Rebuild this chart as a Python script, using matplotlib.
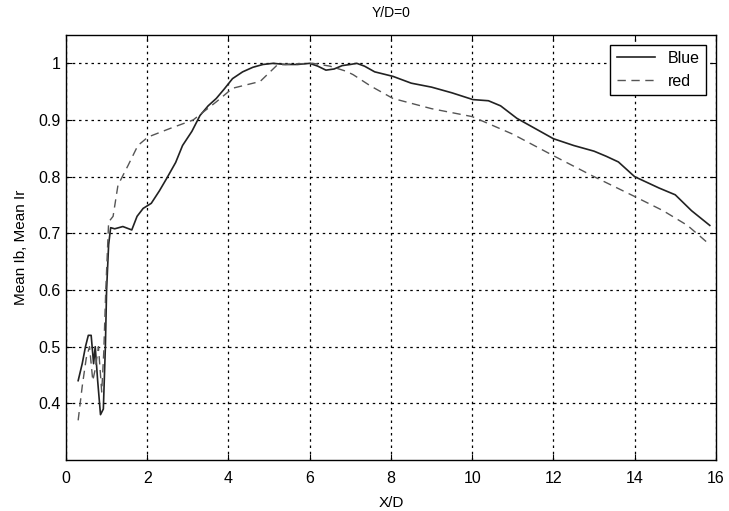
import numpy as np
import matplotlib.pyplot as plt

# values
x_blue = [0.30, 0.40, 0.48, 0.55, 0.62, 0.68, 0.72, 0.78, 0.85, 0.92, 0.97, 1.00, 1.05, 1.10,
          1.20, 1.40, 1.62, 1.75, 1.90, 2.10, 2.30, 2.48, 2.70, 2.87, 3.10, 3.30, 3.50, 3.70,
          3.90, 4.10, 4.35, 4.60, 4.85, 5.10, 5.40, 5.70, 6.00, 6.20, 6.40, 6.60, 6.80, 7.00,
          7.16, 7.35, 7.60, 8.05, 8.50, 9.00, 9.50, 10.02, 10.40, 10.70, 11.10, 11.50, 12.00,
          12.50, 13.00, 13.30, 13.60, 14.00, 14.30, 14.60, 15.00, 15.40, 15.85]
y_blue = [0.44, 0.47, 0.50, 0.52, 0.52, 0.47, 0.50, 0.44, 0.38, 0.39, 0.50, 0.60, 0.68, 0.71,
          0.708, 0.712, 0.706, 0.73, 0.744, 0.753, 0.775, 0.797, 0.825, 0.855, 0.88, 0.908, 0.925, 0.938,
          0.955, 0.973, 0.985, 0.993, 0.998, 1.0, 0.998, 0.998, 1.0, 0.995, 0.988, 0.99, 0.996, 0.998,
          1.0, 0.995, 0.985, 0.977, 0.965, 0.958, 0.948, 0.936, 0.934, 0.925, 0.903, 0.887, 0.867,
          0.855, 0.845, 0.836, 0.826, 0.80, 0.79, 0.78, 0.768, 0.74, 0.714]

x_red = [0.30, 0.40, 0.50, 0.58, 0.66, 0.72, 0.80, 0.88, 0.93, 0.98, 1.05, 1.16, 1.28, 1.53,
         1.77, 2.02, 2.56, 3.13, 3.70, 4.10, 4.78, 5.20, 5.60, 6.08, 6.50, 6.90, 7.07, 7.50,
         8.05, 9.00, 10.00, 11.00, 12.00, 13.00, 14.00, 14.70, 15.30, 15.85]
y_red = [0.37, 0.43, 0.48, 0.50, 0.44, 0.46, 0.50, 0.42, 0.49, 0.60, 0.72, 0.73, 0.785, 0.82,
         0.855, 0.87, 0.885, 0.90, 0.932, 0.956, 0.968, 0.997, 0.999, 1.0, 0.995, 0.986, 0.98, 0.96,
         0.938, 0.92, 0.906, 0.875, 0.837, 0.80, 0.765, 0.74, 0.714, 0.68]

x_ticks = [0, 2, 4, 6, 8, 10, 12, 14, 16]
y_ticks = [0.4, 0.5, 0.6, 0.7, 0.8, 0.9, 1.0]
y_ticklabels = ["0.4", "0.5", "0.6", "0.7", "0.8", "0.9", "1"]

plt.rcParams['font.family'] = ['Liberation Sans', 'DejaVu Sans']

fig = plt.figure(figsize=(7.29, 5.11), dpi=100)
ax = fig.add_axes([0.0905, 0.0998, 0.8915, 0.8317])

ax.plot(x_blue, y_blue, color="#222222", lw=1.2, linestyle="-", label="Blue")
ax.plot(x_red, y_red, color="#555555", lw=1.0, linestyle=(0, (6, 4)), label="red")

ax.set_xlim(0, 16)
ax.set_ylim(0.3, 1.05)
ax.set_xticks(x_ticks)
ax.set_yticks(y_ticks)
ax.set_yticklabels(y_ticklabels)
ax.tick_params(direction="in", labelsize=11.5, top=True, right=True, length=4)
ax.tick_params(axis="x", pad=8)
ax.grid(True, color="black", linestyle=(0, (2, 3)), linewidth=0.9)

for s in ax.spines.values():
    s.set_linewidth(1.0)

ax.set_xlabel("X/D", fontsize=11, labelpad=7)
ax.set_ylabel("Mean Ib, Mean Ir", fontsize=11, labelpad=8)
ax.set_title("Y/D=0", fontsize=10, pad=13)

leg = ax.legend(loc="upper right", fontsize=11.5, fancybox=False, edgecolor="black",
                framealpha=1, handlelength=2.4, borderaxespad=0.6)
leg.get_frame().set_linewidth(1.0)

fig.savefig("out.png", dpi=100)
